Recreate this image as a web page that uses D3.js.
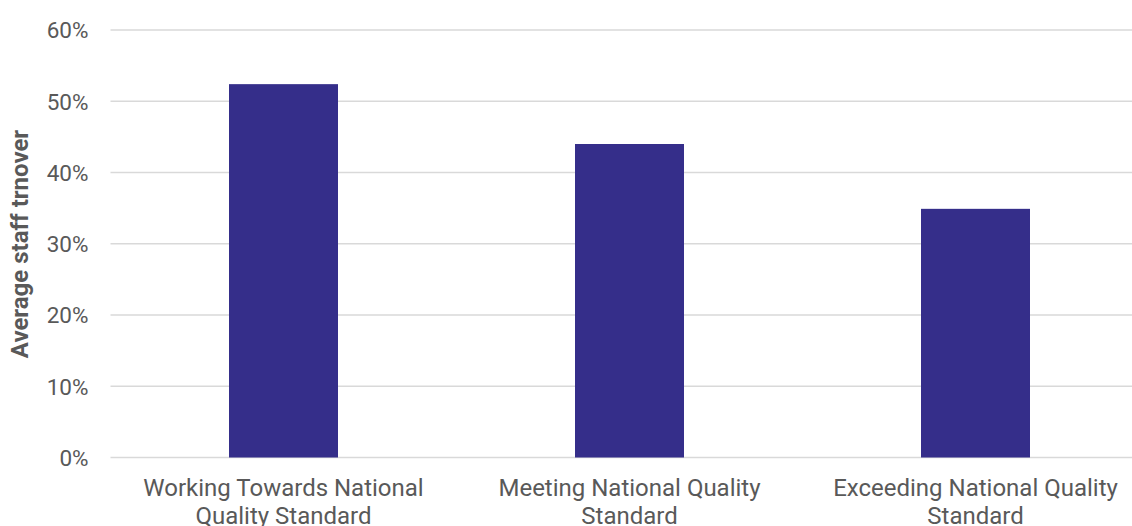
<!DOCTYPE html>
<html>
<head>
<meta charset="utf-8">
<script src="https://cdn.jsdelivr.net/npm/d3@7"></script>
<style>
  body { margin: 0; background: #fff; }
  svg { display: block; font-family: Roboto, "Noto Sans", sans-serif; }
</style>
</head>
<body>
<div id="bar"></div>
<script>
let categories = [
  ["Working Towards National", "Quality Standard"],
  ["Meeting National Quality", "Standard"],
  ["Exceeding National Quality", "Standard"]
];
let turnover = [0.524, 0.440, 0.349];
let yTicks = [0, 0.1, 0.2, 0.3, 0.4, 0.5, 0.6];

let width = 1132, height = 526;
let plotLeft = 110.5, plotRight = 1148.5;
let plotTop = 30, plotBottom = 457.5;

let svg = d3.select("#bar").append("svg")
    .attr("width", width)
    .attr("height", height);

let x = d3.scaleBand()
    .domain(d3.range(categories.length))
    .range([plotLeft, plotRight])
    .paddingInner(0.685)
    .paddingOuter(0.3425);

let y = d3.scaleLinear()
    .domain([0, 0.6])
    .range([plotBottom, plotTop]);

// gridlines
svg.append("g")
  .selectAll("line")
  .data(yTicks)
  .enter().append("line")
    .attr("x1", plotLeft)
    .attr("x2", width)
    .attr("y1", d => y(d))
    .attr("y2", d => y(d))
    .attr("stroke", "#d9d9d9")
    .attr("stroke-width", 1.5);

// y axis labels
let yAxis = svg.append("g")
    .attr("transform", "translate(" + (plotLeft - 22) + ",0)")
    .call(d3.axisLeft(y).tickValues(yTicks).tickFormat(d3.format(".0%")).tickSize(0).tickPadding(0));
yAxis.select(".domain").remove();
yAxis.selectAll("text")
    .attr("fill", "#595959")
    .style("font-size", "22.5px")
    .style("font-family", "Roboto, sans-serif")
    .attr("dy", "0.35em");

// bars
svg.append("g")
  .selectAll("rect")
  .data(turnover)
  .enter().append("rect")
    .attr("x", (d, i) => x(i))
    .attr("y", d => y(d))
    .attr("width", x.bandwidth())
    .attr("height", d => y(0) - y(d))
    .attr("fill", "#352e8a");

// category labels
let labels = svg.append("g")
  .selectAll("text")
  .data(categories)
  .enter().append("text")
    .attr("text-anchor", "middle")
    .attr("fill", "#595959")
    .style("font-size", "24px")
    .attr("transform", (d, i) => "translate(" + (x(i) + x.bandwidth() / 2) + ",496)");
labels.selectAll("tspan")
  .data(d => d)
  .enter().append("tspan")
    .attr("x", 0)
    .attr("dy", (d, i) => i === 0 ? 0 : 28)
    .text(d => d);

// axis title
svg.append("text")
    .attr("transform", "translate(28,244) rotate(-90)")
    .attr("text-anchor", "middle")
    .attr("fill", "#595959")
    .style("font-size", "24px")
    .style("font-weight", "bold")
    .text("Average staff trnover");
</script>
</body>
</html>
